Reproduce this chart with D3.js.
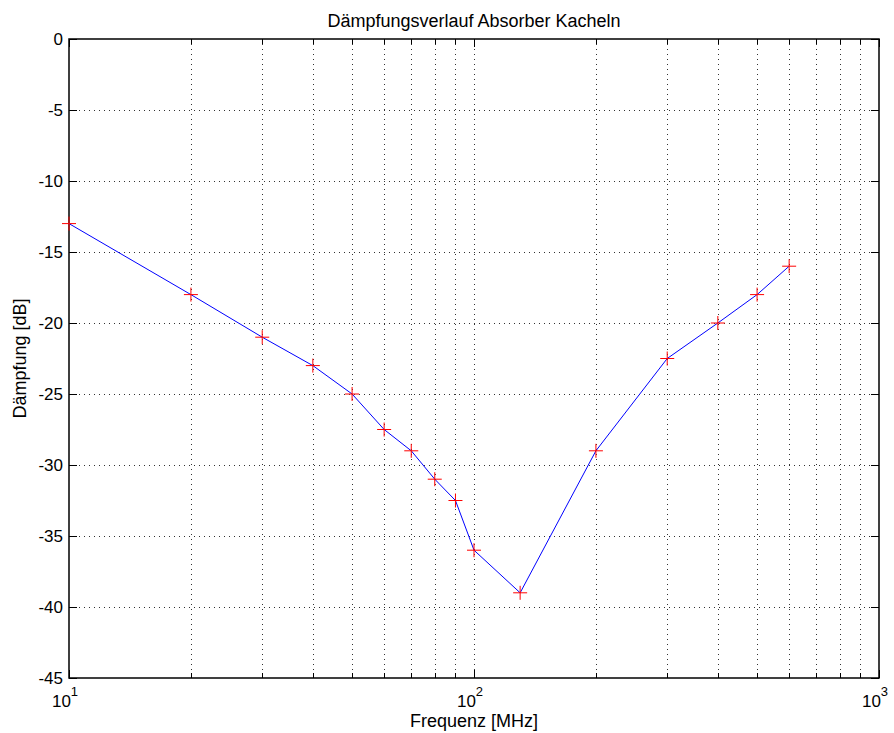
<html>
<head>
    <style>
        body { margin: 0; background: #fff; }
        text { font-family: "Liberation Sans", Arial, sans-serif; fill: #000; }
        .grid line { stroke: #000; stroke-width: 1; stroke-dasharray: 1,4; shape-rendering: crispEdges; opacity: 0.8; }
        .axis path, .axis line { stroke: #000; shape-rendering: crispEdges; }
    </style>
    <script src="https://d3js.org/d3.v7.min.js"></script>
</head>
<body>
    <svg width="894" height="733"></svg>
    <script>
        // data
        var freq = [10, 20, 30, 40, 50, 60, 70, 80, 90, 100, 130, 200, 300, 400, 500, 600];
        var damp = [-13, -18, -21, -23, -25, -27.5, -29, -31, -32.5, -36, -39, -29, -22.5, -20, -18, -16];
        var yTicks = [0, -5, -10, -15, -20, -25, -30, -35, -40, -45];
        var xMajor = [10, 100, 1000];
        var xExp = ["1", "2", "3"];

        var svg = d3.select("svg"),
            pl = 69, pr = 879, pt = 39, pb = 678;

        var x = d3.scaleLog().domain([10, 1000]).range([pl, pr]);
        var y = d3.scaleLinear().domain([-45, 0]).range([pb, pt]);

        var xMinor = [];
        [10, 100].forEach(function(d) {
            for (var k = 2; k <= 9; k++) xMinor.push(d * k);
        });

        // grid
        var grid = svg.append("g").attr("class", "grid");
        grid.selectAll(".gx")
            .data(xMinor.concat([100]))
            .enter().append("line")
            .attr("x1", function(d) { return Math.round(x(d)) + 0.5; })
            .attr("x2", function(d) { return Math.round(x(d)) + 0.5; })
            .attr("y1", pt).attr("y2", pb);
        grid.selectAll(".gy")
            .data(yTicks.slice(1, -1))
            .enter().append("line")
            .attr("y1", function(d) { return Math.round(y(d)) + 0.5; })
            .attr("y2", function(d) { return Math.round(y(d)) + 0.5; })
            .attr("x1", pl).attr("x2", pr);

        // box
        svg.append("rect")
           .attr("x", pl).attr("y", pt)
           .attr("width", pr - pl).attr("height", pb - pt)
           .attr("fill", "none").attr("stroke", "#000").attr("stroke-width", 1.5);

        // ticks inside, both sides
        var ticks = svg.append("g").attr("class", "axis");
        function tickX(d, len) {
            var px = Math.round(x(d)) + 0.5;
            ticks.append("line").attr("x1", px).attr("x2", px).attr("y1", pb).attr("y2", pb - len);
            ticks.append("line").attr("x1", px).attr("x2", px).attr("y1", pt).attr("y2", pt + len);
        }
        xMajor.forEach(function(d) { tickX(d, 8); });
        xMinor.forEach(function(d) { tickX(d, 5); });
        yTicks.forEach(function(d) {
            var py = Math.round(y(d)) + 0.5;
            ticks.append("line").attr("x1", pl).attr("x2", pl + 8).attr("y1", py).attr("y2", py);
            ticks.append("line").attr("x1", pr).attr("x2", pr - 8).attr("y1", py).attr("y2", py);
        });

        // y tick labels
        svg.selectAll(".ylab")
           .data(yTicks)
           .enter().append("text")
           .attr("x", pl - 6)
           .attr("y", function(d) { return y(d) + 6; })
           .attr("text-anchor", "end")
           .attr("font-size", 17)
           .text(function(d) { return d; });

        // x tick labels 10^n
        var xl = svg.selectAll(".xlab")
           .data(xMajor)
           .enter().append("text")
           .attr("x", function(d) { return x(d) - 4; })
           .attr("y", 707)
           .attr("text-anchor", "middle")
           .attr("font-size", 17);
        xl.append("tspan").text("10");
        xl.append("tspan").attr("dy", -11).attr("font-size", 13)
          .text(function(d, i) { return xExp[i]; });

        // line
        var pts = freq.map(function(f, i) { return [f, damp[i]]; });
        svg.append("path")
           .datum(pts)
           .attr("fill", "none")
           .attr("stroke", "#0000ff")
           .attr("stroke-width", 1)
           .attr("d", d3.line()
                .x(function(d) { return x(d[0]); })
                .y(function(d) { return y(d[1]); }));

        // markers
        svg.selectAll(".mk")
           .data(pts)
           .enter().append("path")
           .attr("fill", "none")
           .attr("stroke", "#ff0000")
           .attr("stroke-width", 1)
           .attr("d", function(d) {
                var cx = x(d[0]), cy = y(d[1]), s = 7;
                return "M" + (cx - s) + "," + cy + "H" + (cx + s) + "M" + cx + "," + (cy - s) + "V" + (cy + s);
           });

        // title and labels
        svg.append("text")
           .attr("x", (pl + pr) / 2)
           .attr("y", 27)
           .attr("text-anchor", "middle")
           .attr("font-size", 18)
           .text("Dämpfungsverlauf Absorber Kacheln");

        svg.append("text")
           .attr("x", (pl + pr) / 2)
           .attr("y", 727)
           .attr("text-anchor", "middle")
           .attr("font-size", 18)
           .text("Frequenz [MHz]");

        svg.append("text")
           .attr("transform", "translate(26," + (pt + pb) / 2 + ") rotate(-90)")
           .attr("text-anchor", "middle")
           .attr("font-size", 18)
           .text("Dämpfung [dB]");
    </script>
</body>
</html>
